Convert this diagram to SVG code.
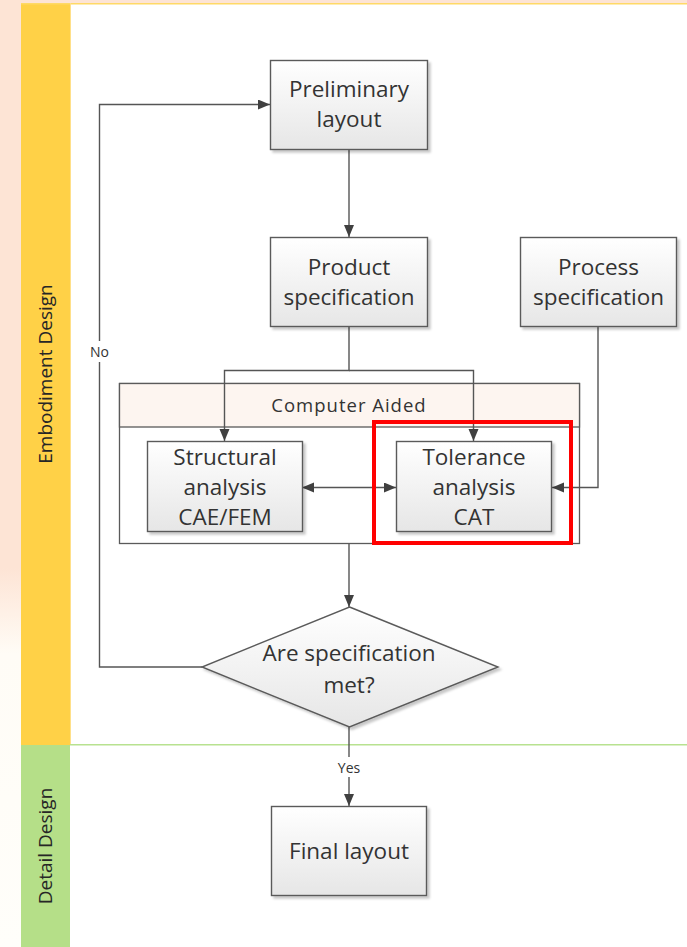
<svg xmlns="http://www.w3.org/2000/svg" width="687" height="947" viewBox="0 0 687 947">
  <defs>
    <linearGradient id="boxFill" x1="0" y1="0" x2="0" y2="1">
      <stop offset="0" stop-color="#FFFFFF"/>
      <stop offset="1" stop-color="#E6E6E6"/>
    </linearGradient>
    <linearGradient id="sideFade" x1="0" y1="0" x2="0" y2="1">
      <stop offset="0" stop-color="#FDE4D5"/>
      <stop offset="0.6" stop-color="#FDE4D5"/>
      <stop offset="0.69" stop-color="#FFFCF6"/>
      <stop offset="1" stop-color="#FFFEFA"/>
    </linearGradient>
    <filter id="shadow" x="-10%" y="-10%" width="125%" height="125%">
      <feDropShadow dx="2.5" dy="2.5" stdDeviation="1.2" flood-color="#000000" flood-opacity="0.22"/>
    </filter>
    <marker id="arrow" markerUnits="userSpaceOnUse" markerWidth="13" markerHeight="11" refX="12" refY="5" orient="auto-start-reverse">
      <path d="M0,0 L12,5 L0,10 z" fill="#404040"/>
    </marker>
    <style>
      .box { fill: url(#boxFill); stroke: #5A5A5A; stroke-width: 1.4; filter: url(#shadow); }
      .label { font-family: "Open Sans", "Noto Sans", sans-serif; font-size: 22.5px; fill: #333333; text-anchor: middle; }
      .small { font-family: "Open Sans", "Noto Sans", sans-serif; font-size: 14px; fill: #333333; text-anchor: middle; }
      .lane { font-family: "Open Sans", "Noto Sans", sans-serif; font-size: 19px; fill: #262626; text-anchor: middle; }
      .conn { fill: none; stroke: #555555; stroke-width: 1.4; }
    </style>
  </defs>

  <!-- page background -->
  <rect x="0" y="0" width="687" height="947" fill="#FFFFFF"/>
  <rect x="0" y="0" width="21" height="947" fill="url(#sideFade)"/>
  <rect x="21" y="0" width="666" height="3" fill="#FDE4D5"/>

  <!-- swimlanes -->
  <g id="lane-embodiment">
    <rect x="21" y="3" width="49" height="742" fill="#FFD147"/>
    <rect x="70" y="3" width="617" height="742" fill="#FFFFFF"/>
    <line x1="21" y1="3.8" x2="687" y2="3.8" stroke="#FFD966" stroke-width="1.6"/>
    <line x1="70.5" y1="3" x2="70.5" y2="745" stroke="#FFE08A" stroke-width="1"/>
    <text class="lane" transform="translate(52,374) rotate(-90)">Embodiment Design</text>
  </g>
  <g id="lane-detail">
    <rect x="21" y="745" width="49" height="202" fill="#B5DF88"/>
    <line x1="70" y1="744.8" x2="687" y2="744.8" stroke="#B8E290" stroke-width="1.6"/>
    <text class="lane" transform="translate(52,846) rotate(-90)">Detail Design</text>
  </g>

  <!-- group container -->
  <g id="computer-aided">
    <rect x="119.5" y="383.5" width="460" height="160" fill="#FFFFFF" stroke="#5A5A5A" stroke-width="1.3"/>
    <rect x="119.5" y="383.5" width="460" height="43.5" fill="#FDF5F0" stroke="#5A5A5A" stroke-width="1.3"/>
    <text x="349" y="411.5" font-family="'Open Sans', 'Noto Sans', sans-serif" font-size="18.5px" letter-spacing="1" fill="#333333" text-anchor="middle">Computer Aided</text>
  </g>

  <!-- connectors -->
  <g id="connectors">
    <line class="conn" x1="349" y1="149" x2="349" y2="237" marker-end="url(#arrow)"/>
    <polyline class="conn" points="349,327 349,370.5 224.5,370.5 224.5,441" marker-end="url(#arrow)"/>
    <polyline class="conn" points="349,370.5 473.5,370.5 473.5,441" marker-end="url(#arrow)"/>
    <polyline class="conn" points="598,327 598,487.5 552,487.5" marker-end="url(#arrow)"/>
    <line class="conn" x1="302" y1="487.5" x2="396" y2="487.5" marker-start="url(#arrow)" marker-end="url(#arrow)"/>
    <line class="conn" x1="349" y1="544" x2="349" y2="607" marker-end="url(#arrow)"/>
    <polyline class="conn" points="202,667 99.5,667 99.5,104.5 270,104.5" marker-end="url(#arrow)"/>
    <line class="conn" x1="349" y1="727" x2="349" y2="806" marker-end="url(#arrow)"/>
    <!-- connector labels -->
    <rect x="90" y="341" width="19" height="21" fill="#FFFFFF"/>
    <text class="small" x="99.5" y="357">No</text>
    <rect x="336" y="757" width="26" height="20" fill="#FFFFFF"/>
    <text class="small" x="349" y="773">Yes</text>
  </g>

  <!-- process nodes -->
  <g id="preliminary-layout">
    <rect class="box" x="270.5" y="60.5" width="157" height="89"/>
    <text class="label" x="349" y="97">Preliminary</text>
    <text class="label" x="349" y="127">layout</text>
  </g>
  <g id="product-specification">
    <rect class="box" x="270.5" y="237.5" width="157" height="89"/>
    <text class="label" x="349" y="275">Product</text>
    <text class="label" x="349" y="305">specification</text>
  </g>
  <g id="process-specification">
    <rect class="box" x="520.5" y="237.5" width="156" height="89"/>
    <text class="label" x="598.5" y="275">Process</text>
    <text class="label" x="598.5" y="305">specification</text>
  </g>
  <g id="structural-analysis">
    <rect class="box" x="147.5" y="441.5" width="155" height="90"/>
    <text class="label" x="225" y="465">Structural</text>
    <text class="label" x="225" y="495">analysis</text>
    <text class="label" x="225" y="525">CAE/FEM</text>
  </g>
  <g id="tolerance-analysis">
    <rect class="box" x="396.5" y="441.5" width="155" height="90"/>
    <text class="label" x="474" y="465">Tolerance</text>
    <text class="label" x="474" y="495">analysis</text>
    <text class="label" x="474" y="525">CAT</text>
  </g>
  <g id="spec-decision">
    <polygon class="box" points="349.5,607 498,667 349.5,727 202,667"/>
    <text class="label" x="349" y="661">Are specification</text>
    <text class="label" x="349" y="693">met?</text>
  </g>
  <g id="final-layout">
    <rect class="box" x="271.5" y="806.5" width="155" height="89"/>
    <text class="label" x="349" y="859">Final layout</text>
  </g>

  <!-- highlight frame -->
  <rect id="highlight" x="374" y="422" width="197" height="121" fill="none" stroke="#FF0000" stroke-width="4"/>
</svg>
